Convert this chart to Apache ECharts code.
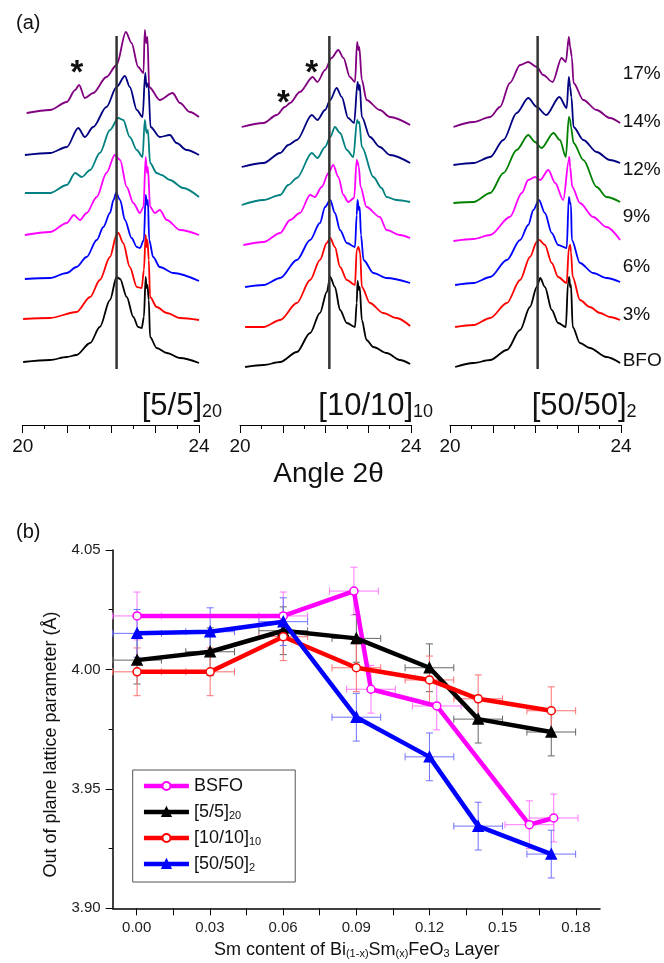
<!DOCTYPE html>
<html>
<head>
<meta charset="utf-8">
<script src="https://cdn.jsdelivr.net/npm/echarts@6/dist/echarts.min.js"></script>
<style>
  html, body { margin: 0; padding: 0; background: #fff; }
  #chart { width: 664px; height: 963px; }
</style>
</head>
<body>
<div id="chart"></div>
<script>
var FONT = 'Liberation Sans, Arial, Helvetica, sans-serif'

// ---- (a) XRD scans: [2theta, stacked intensity (a.u.)] ----
// [5/5]20
var s55_bfo = [[20.01,63],[20.62,65],[21.00,68],[21.22,70],[21.53,82],[21.75,98],[21.98,125],[22.13,148],[22.21,146],[22.36,128],[22.51,108],[22.62,98],[22.70,97],[22.75,108],[22.79,148],[22.81,137],[22.83,140],[22.86,125],[22.89,88],[23.04,77],[23.27,72],[23.57,67],[24.00,62]]
var s55_3 = [[20.01,106],[20.62,107],[21.22,113],[21.53,128],[21.75,145],[21.98,168],[22.13,190],[22.17,192],[22.28,182],[22.43,158],[22.59,138],[22.70,137],[22.75,155],[22.79,190],[22.81,178],[22.83,185],[22.86,165],[22.89,128],[23.04,118],[23.27,112],[23.57,107],[24.00,105]]
var s55_6 = [[20.05,146],[20.62,147],[21.00,152],[21.22,158],[21.45,168],[21.68,185],[21.83,198],[21.98,212],[22.06,225],[22.12,232],[22.21,225],[22.32,205],[22.47,187],[22.59,178],[22.66,177],[22.75,185],[22.79,230],[22.82,220],[22.84,225],[22.87,185],[22.96,168],[23.11,158],[23.42,152],[24.00,144]]
var s55_9 = [[20.05,190],[20.62,193],[21.00,202],[21.16,210],[21.30,205],[21.45,212],[21.68,228],[21.90,252],[22.09,270],[22.21,265],[22.36,238],[22.51,222],[22.66,212],[22.74,218],[22.79,268],[22.82,252],[22.84,258],[22.89,218],[23.00,212],[23.11,215],[23.27,205],[23.57,195],[24.00,190]]
var s55_12 = [[20.05,232],[20.62,232],[21.00,240],[21.19,252],[21.34,248],[21.53,255],[21.75,272],[21.98,295],[22.17,307],[22.28,305],[22.43,288],[22.59,275],[22.72,268],[22.77,305],[22.81,292],[22.84,295],[22.89,262],[23.04,252],[23.15,250],[23.34,245],[23.64,237],[24.00,228]]
var s55_14 = [[20.05,270],[20.62,272],[21.00,278],[21.26,297],[21.41,288],[21.60,298],[21.90,318],[22.13,338],[22.32,349],[22.43,338],[22.59,315],[22.72,308],[22.78,352],[22.81,338],[22.85,342],[22.90,298],[23.11,288],[23.34,290],[23.49,282],[23.72,275],[24.00,270]]
var s55_17 = [[20.09,312],[20.62,315],[21.00,323],[21.19,335],[21.28,340],[21.41,327],[21.60,332],[21.90,348],[22.13,360],[22.34,393],[22.47,382],[22.62,358],[22.74,352],[22.77,395],[22.80,382],[22.83,388],[22.87,338],[23.11,325],[23.40,332],[23.57,322],[23.79,313],[24.00,308]]
// [10/10]10
var s1010_bfo = [[20.12,58],[20.55,60],[20.94,63],[21.33,73],[21.64,92],[21.87,112],[22.03,133],[22.11,148],[22.22,138],[22.34,115],[22.50,102],[22.69,98],[22.73,122],[22.75,144],[22.78,135],[22.80,138],[22.85,105],[22.96,85],[23.12,78],[23.43,72],[23.74,65],[23.98,61]]
var s1010_3 = [[20.12,98],[20.55,98],[20.94,105],[21.33,122],[21.64,145],[21.87,165],[22.03,182],[22.11,187],[22.22,178],[22.34,158],[22.50,145],[22.69,140],[22.73,175],[22.77,178],[22.81,172],[22.85,138],[23.04,122],[23.35,112],[23.66,107],[23.98,99]]
var s1010_6 = [[20.12,138],[20.55,140],[20.94,147],[21.33,165],[21.64,185],[21.87,202],[21.99,218],[22.11,225],[22.22,212],[22.34,195],[22.50,182],[22.69,178],[22.73,210],[22.75,225],[22.78,215],[22.80,218],[22.83,190],[22.89,165],[23.12,152],[23.43,147],[23.98,142]]
var s1010_9 = [[20.08,180],[20.55,183],[20.94,192],[21.17,205],[21.40,212],[21.64,230],[21.75,228],[21.91,238],[22.07,252],[22.18,260],[22.30,248],[22.42,230],[22.53,223],[22.67,227],[22.73,265],[22.75,263],[22.78,258],[22.82,238],[22.96,218],[23.27,208],[23.43,195],[23.74,190],[23.98,187]]
var s1010_12 = [[20.04,220],[20.55,225],[20.94,230],[21.13,240],[21.33,247],[21.68,272],[21.81,267],[21.99,278],[22.11,288],[22.22,298],[22.34,292],[22.50,275],[22.65,268],[22.74,305],[22.77,302],[22.79,303],[22.85,278],[23.12,248],[23.31,237],[23.43,228],[23.66,225],[23.98,223]]
var s1010_14 = [[20.04,258],[20.55,262],[20.94,272],[21.13,280],[21.33,285],[21.68,310],[21.81,305],[21.99,315],[22.11,325],[22.26,337],[22.38,328],[22.53,307],[22.67,302],[22.75,343],[22.78,335],[22.80,340],[22.85,308],[23.04,288],[23.27,278],[23.51,270],[23.98,262]]
var s1010_17 = [[20.04,298],[20.55,302],[20.86,310],[21.05,318],[21.17,322],[21.40,333],[21.70,348],[21.81,343],[21.99,355],[22.14,367],[22.30,375],[22.42,367],[22.57,348],[22.69,343],[22.74,383],[22.77,375],[22.79,378],[22.85,345],[22.96,325],[23.27,315],[23.51,308],[23.98,300]]
// [50/50]2
var s5050_bfo = [[20.12,58],[20.55,62],[20.94,65],[21.33,75],[21.64,95],[21.87,118],[22.03,138],[22.11,147],[22.22,138],[22.38,115],[22.53,102],[22.71,98],[22.76,142],[22.79,148],[22.81,138],[22.83,140],[22.87,98],[23.04,82],[23.27,77],[23.66,68],[23.98,62]]
var s5050_3 = [[20.12,98],[20.55,100],[20.94,107],[21.33,122],[21.64,145],[21.87,168],[22.03,183],[22.09,185],[22.22,180],[22.38,162],[22.53,148],[22.73,142],[22.78,177],[22.81,180],[22.83,173],[22.87,148],[23.04,125],[23.27,118],[23.51,112],[23.74,108],[23.98,105]]
var s5050_6 = [[20.12,140],[20.55,142],[20.94,148],[21.33,165],[21.64,185],[21.83,200],[21.95,215],[22.08,225],[22.22,212],[22.38,192],[22.53,180],[22.73,177],[22.78,228],[22.81,222],[22.83,220],[22.85,185],[23.04,162],[23.35,152],[23.66,147],[23.98,143]]
var s5050_9 = [[20.08,184],[20.55,186],[20.94,190],[21.40,208],[21.68,232],[21.83,245],[21.99,248],[22.11,245],[22.30,255],[22.46,242],[22.65,225],[22.78,265],[22.79,268],[22.81,258],[22.86,238],[23.04,222],[23.35,208],[23.66,198],[23.98,185]]
var s5050_12 = [[20.08,222],[20.55,223],[20.94,232],[21.25,252],[21.56,275],[21.83,290],[21.99,283],[22.14,277],[22.42,292],[22.57,285],[22.71,268],[22.78,308],[22.81,305],[22.83,298],[22.89,282],[23.12,265],[23.43,238],[23.66,228],[23.98,223]]
var s5050_14 = [[20.08,260],[20.55,262],[20.94,268],[21.25,285],[21.56,312],[21.83,327],[22.03,318],[22.25,310],[22.56,328],[22.73,317],[22.78,348],[22.81,338],[22.84,328],[22.89,298],[23.12,285],[23.43,273],[23.74,265],[23.98,262]]
var s5050_17 = [[20.08,298],[20.55,303],[20.94,308],[21.17,318],[21.40,342],[21.64,360],[21.83,363],[22.03,358],[22.18,350],[22.40,343],[22.61,367],[22.71,363],[22.78,388],[22.81,378],[22.85,368],[22.89,342],[23.12,325],[23.43,315],[23.74,307],[23.98,302]]

var sampleLabels = ['BFO', '3%', '6%', '9%', '12%', '14%', '17%']
var colorsA = ['#000000', '#ff0000', '#0000ff', '#ff00ff', '#008080', '#000080', '#800080']
var colorsB = ['#000000', '#ff0000', '#0000ff', '#ff00ff', '#008000', '#000080', '#800080']
var refAngle = [22.13, 22.09, 22.05]

// ---- (b) lattice parameter vs Sm content ----
var smBSFO = [0, 0.06, 0.089, 0.096, 0.123, 0.161, 0.171]
var smML = [0, 0.03, 0.06, 0.09, 0.12, 0.14, 0.17]
var lpBSFO = [4.0224, 4.0224, 4.0328, 3.9917, 3.9847, 3.9350, 3.9378]
var lp55 = [4.0039, 4.0074, 4.0162, 4.0130, 4.0007, 3.9792, 3.9738]
var lp1010 = [3.9990, 3.9990, 4.0137, 4.0007, 3.9956, 3.9877, 3.9827]
var lp5050 = [4.0151, 4.0158, 4.0200, 3.9800, 3.9634, 3.9344, 3.9227]
var errX = 0.01
var errY = 0.01

var chart = echarts.init(document.getElementById('chart'), null, { renderer: 'canvas' })

// panels of (a)
var panels = [
  { left: 22.7, width: 176.3, curves: [s55_bfo, s55_3, s55_6, s55_9, s55_12, s55_14, s55_17], colors: colorsA },
  { left: 240, width: 171, curves: [s1010_bfo, s1010_3, s1010_6, s1010_9, s1010_12, s1010_14, s1010_17], colors: colorsA },
  { left: 450, width: 171, curves: [s5050_bfo, s5050_3, s5050_6, s5050_9, s5050_12, s5050_14, s5050_17], colors: colorsB }
]

var grids = [], xAxes = [], yAxes = [], series = []

panels.forEach(function (p, i) {
  grids.push({ left: p.left, width: p.width, top: 30, height: 395 })
  xAxes.push({
    gridIndex: i, type: 'value', min: 20, max: 24, interval: 1,
    axisLine: { lineStyle: { color: '#000', width: 1 } },
    axisTick: { inside: false, length: 8, lineStyle: { color: '#000' } },
    minorTick: { show: true, splitNumber: 2, length: 4, lineStyle: { color: '#000' } },
    splitLine: { show: false },
    axisLabel: {
      fontSize: 19, color: '#111', margin: 12, fontFamily: FONT,
      formatter: function (v) { return (v === 20 || v === 24) ? String(v) : '' }
    }
  })
  yAxes.push({ gridIndex: i, type: 'value', min: 0, max: 395, show: false })
  p.curves.forEach(function (c, k) {
    series.push({
      type: 'line', xAxisIndex: i, yAxisIndex: i, data: c,
      showSymbol: false, symbol: 'none', smooth: 0.3, smoothMonotone: 'x',
      lineStyle: { color: p.colors[k], width: 1.8 }, silent: true, z: 2
    })
  })
  // reference line
  series.push({
    type: 'line', xAxisIndex: i, yAxisIndex: i,
    data: [[refAngle[i], 56], [refAngle[i], 389]],
    showSymbol: false, symbol: 'none',
    lineStyle: { color: '#333', width: 2.5 }, silent: true, z: 3
  })
})

// (b) grids: main (axis lines) + tick grid spanning 0..0.18
grids.push({ left: 112.7, width: 487.3, top: 550, height: 358.3 })
grids.push({ left: 136.7, width: 439.2, top: 550, height: 358.3 })
xAxes.push({
  gridIndex: 3, type: 'value', min: -0.01, max: 0.19,
  axisLine: { onZero: false, lineStyle: { color: '#000', width: 1.5 } },
  axisTick: { show: false }, axisLabel: { show: false }, splitLine: { show: false }
})
yAxes.push({
  gridIndex: 3, type: 'value', min: 3.90, max: 4.05, interval: 0.05,
  axisLine: { show: true, onZero: false, lineStyle: { color: '#000', width: 1.5 } },
  axisTick: { show: true, inside: false, length: 7, lineStyle: { color: '#000' } },
  minorTick: { show: true, splitNumber: 2, length: 4, lineStyle: { color: '#000' } },
  splitLine: { show: false },
  axisLabel: { fontSize: 15, color: '#222', margin: 12, fontFamily: FONT, formatter: function (v) { return v.toFixed(2) } }
})
xAxes.push({
  gridIndex: 4, type: 'value', min: 0, max: 0.18, interval: 0.03,
  axisLine: { show: false, onZero: false },
  axisTick: { show: true, inside: false, length: 7, lineStyle: { color: '#000' } },
  minorTick: { show: true, splitNumber: 2, length: 7, lineStyle: { color: '#000' } },
  splitLine: { show: false },
  axisLabel: { fontSize: 15, color: '#222', margin: 12, fontFamily: FONT, formatter: function (v) { return v.toFixed(2) } }
})
yAxes.push({ gridIndex: 4, type: 'value', min: 3.90, max: 4.05, show: false })

function errSeries(xs, ys, color) {
  return {
    type: 'custom', xAxisIndex: 3, yAxisIndex: 3, silent: true, z: 1,
    data: xs.map(function (x, i) { return [x, ys[i], errX, errY] }),
    renderItem: function (params, api) {
      var x = api.value(0), y = api.value(1), ex = api.value(2), ey = api.value(3)
      var l = api.coord([x - ex, y]), r = api.coord([x + ex, y])
      var t = api.coord([x, y + ey]), b = api.coord([x, y - ey])
      var cap = 3.5
      var st = { stroke: color, lineWidth: 1 }
      return {
        type: 'group', children: [
          { type: 'line', shape: { x1: l[0], y1: l[1], x2: r[0], y2: r[1] }, style: st },
          { type: 'line', shape: { x1: t[0], y1: t[1], x2: b[0], y2: b[1] }, style: st },
          { type: 'line', shape: { x1: l[0], y1: l[1] - cap, x2: l[0], y2: l[1] + cap }, style: st },
          { type: 'line', shape: { x1: r[0], y1: r[1] - cap, x2: r[0], y2: r[1] + cap }, style: st },
          { type: 'line', shape: { x1: t[0] - cap, y1: t[1], x2: t[0] + cap, y2: t[1] }, style: st },
          { type: 'line', shape: { x1: b[0] - cap, y1: b[1], x2: b[0] + cap, y2: b[1] }, style: st }
        ]
      }
    }
  }
}

function lpSeries(name, xs, ys, color, filled) {
  return {
    name: name, type: 'line', xAxisIndex: 3, yAxisIndex: 3,
    data: xs.map(function (x, i) { return [x, ys[i]] }),
    symbol: filled ? 'triangle' : 'circle', symbolSize: filled ? 10 : 8,
    lineStyle: { color: color, width: 4.5 },
    itemStyle: { color: filled ? color : '#fff', borderColor: color, borderWidth: 1.5 },
    z: 3
  }
}

series.push(errSeries(smBSFO, lpBSFO, '#ff77ff'))
series.push(errSeries(smML, lp55, '#666666'))
series.push(errSeries(smML, lp1010, '#ff7070'))
series.push(errSeries(smML, lp5050, '#7070ff'))
series.push(lpSeries('BSFO', smBSFO, lpBSFO, '#ff00ff', false))
series.push(lpSeries('[5/5]_20', smML, lp55, '#000000', true))
series.push(lpSeries('[10/10]_10', smML, lp1010, '#ff0000', false))
series.push(lpSeries('[50/50]_2', smML, lp5050, '#0000ff', true))

function txt(x, y, text, size, opts) {
  var s = {
    text: text, fill: '#111', fontSize: size, fontFamily: FONT,
    align: 'left', verticalAlign: 'middle', textAlign: 'left', textVerticalAlign: 'middle'
  }
  for (var k in (opts || {})) s[k] = opts[k]
  return { type: 'text', x: x, y: y, style: s, z: 10 }
}

var labelY = [360.3, 315, 266.7, 216.7, 170, 122, 74.2]
var titleRich = {
  m: { fontSize: 31, fontFamily: FONT, fill: '#111' },
  s: { fontSize: 18, fontFamily: FONT, fill: '#111', verticalAlign: 'bottom' }
}
var graphics = [
  txt(16, 23, '(a)', 20),
  txt(16, 532, '(b)', 20),
  txt(77, 74, '*', 33, { align: 'center', textAlign: 'center', fontWeight: 'bold' }),
  txt(311.7, 74, '*', 33, { align: 'center', textAlign: 'center', fontWeight: 'bold' }),
  txt(283.3, 104, '*', 33, { align: 'center', textAlign: 'center', fontWeight: 'bold' }),
  txt(141.7, 406, '{m|[5/5]}{s|20}', 31, { rich: titleRich }),
  txt(318.3, 406, '{m|[10/10]}{s|10}', 31, { rich: titleRich }),
  txt(531.7, 406, '{m|[50/50]}{s|2}', 31, { rich: titleRich }),
  txt(328.5, 474, 'Angle 2θ', 28, { align: 'center', textAlign: 'center' }),
  txt(356.7, 950, '{m|Sm content of Bi}{s|(1-x)}{m|Sm}{s|(x)}{m|FeO}{s|3}{m| Layer}', 18, {
    align: 'center', textAlign: 'center',
    rich: { m: { fontSize: 18, fontFamily: FONT, fill: '#111' }, s: { fontSize: 11, fontFamily: FONT, fill: '#111', verticalAlign: 'bottom' } }
  }),
  { type: 'text', x: 51, y: 744.5, rotation: Math.PI / 2, z: 10,
    style: { text: 'Out of plane lattice parameter (Å)', fill: '#111', fontSize: 18, fontFamily: FONT,
      align: 'center', verticalAlign: 'middle', textAlign: 'center', textVerticalAlign: 'middle' } }
]
sampleLabels.forEach(function (s, i) {
  graphics.push(txt(622.7, labelY[i], s, 19))
})

chart.setOption({
  animation: false,
  backgroundColor: '#fff',
  textStyle: { fontFamily: FONT },
  grid: grids,
  xAxis: xAxes,
  yAxis: yAxes,
  legend: {
    data: ['BSFO', '[5/5]_20', '[10/10]_10', '[50/50]_2'],
    orient: 'vertical', left: 132.7, top: 770,
    padding: [7, 34, 9, 9], itemGap: 8,
    itemWidth: 45, itemHeight: 10,
    lineStyle: { width: 4.5 },
    backgroundColor: '#fff', borderColor: '#555', borderWidth: 1, borderRadius: 0,
    formatter: function (name) {
      var p = name.split('_')
      return p.length > 1 ? '{m|' + p[0] + '}{s|' + p[1] + '}' : '{m|' + p[0] + '}'
    },
    textStyle: {
      fontFamily: FONT, color: '#111',
      rich: {
        m: { fontSize: 18, fontFamily: FONT, color: '#111' },
        s: { fontSize: 11, fontFamily: FONT, color: '#111', verticalAlign: 'bottom' }
      }
    }
  },
  graphic: graphics,
  series: series
})
</script>
</body>
</html>
